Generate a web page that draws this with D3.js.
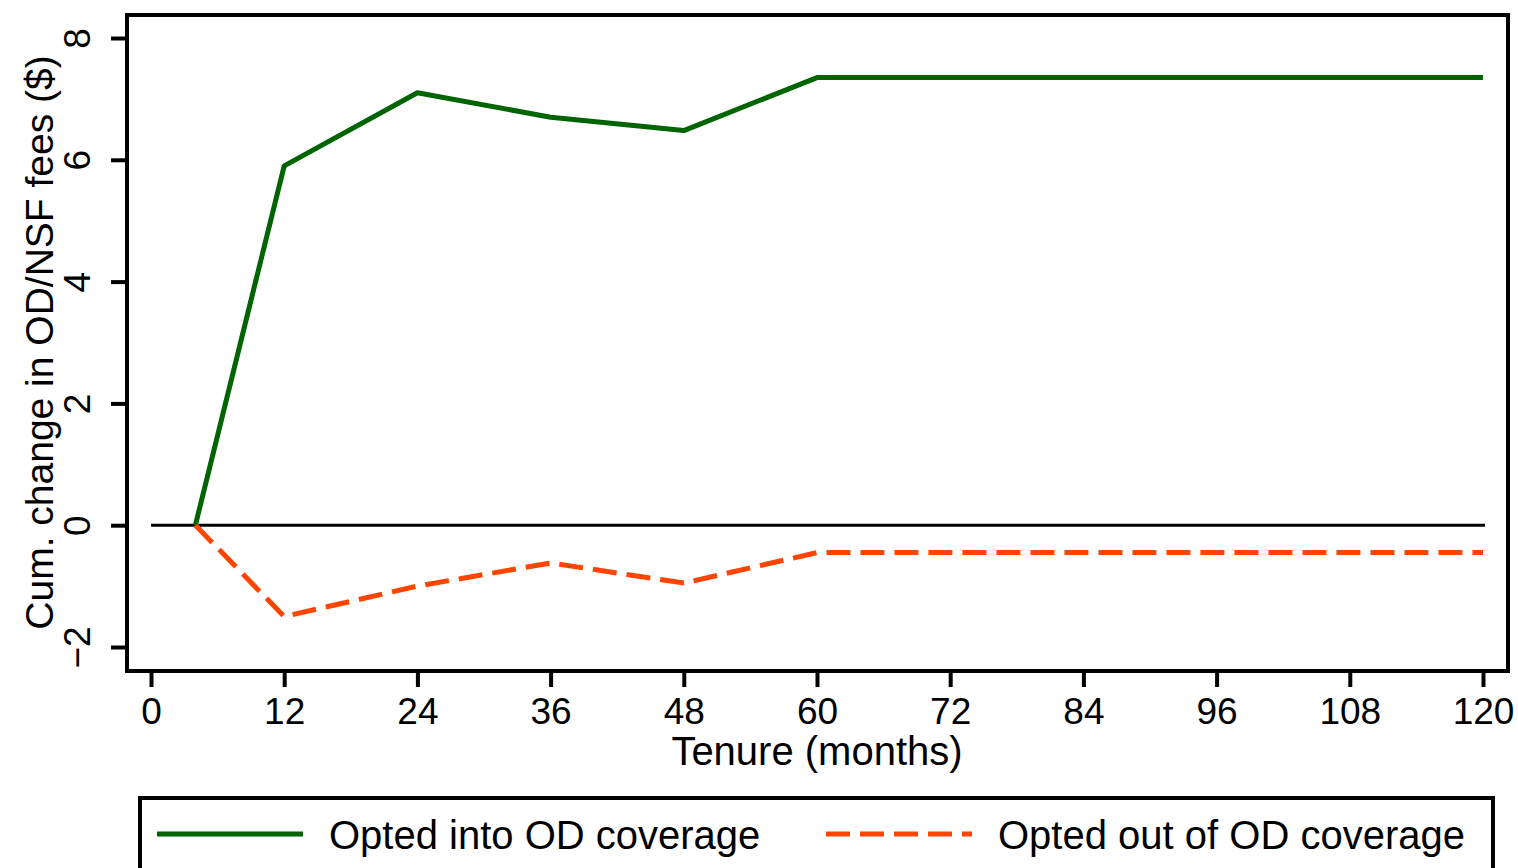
<!DOCTYPE html>
<html>
<head>
<meta charset="utf-8">
<script src="https://cdn.jsdelivr.net/npm/d3@7"></script>
<style>
  html, body { margin: 0; padding: 0; background: #fff; }
  svg { display: block; font-family: "Liberation Sans", Arial, sans-serif; }
</style>
</head>
<body>
<svg id="chart" width="1518" height="868"></svg>
<script>
// ---- data ----
const tenure = [4, 12, 24, 36, 48, 60, 120];
const optedIn = [0, 5.9, 7.1, 6.7, 6.48, 7.35, 7.35];
const optedOut = [0, -1.5, -1.0, -0.62, -0.95, -0.45, -0.45];
const xTicks = [0, 12, 24, 36, 48, 60, 72, 84, 96, 108, 120];
const yTicks = [-2, 0, 2, 4, 6, 8];
const seriesNames = ["Opted into OD coverage", "Opted out of OD coverage"];
const xTitle = "Tenure (months)";
const yTitle = "Cum. change in OD/NSF fees ($)";

const svg = d3.select("#chart");
const x = d3.scaleLinear().domain([0, 120]).range([151, 1483]);
const y = d3.scaleLinear().domain([-2, 8]).range([647, 38]);

const frame = { left: 127, right: 1508, top: 15, bottom: 671 };

// plot frame
svg.append("rect")
  .attr("x", frame.left).attr("y", frame.top)
  .attr("width", frame.right - frame.left).attr("height", frame.bottom - frame.top)
  .attr("fill", "#fff").attr("stroke", "#000").attr("stroke-width", 4);

// y axis
const yAxis = svg.append("g").attr("transform", `translate(${frame.left - 2},0)`)
  .call(d3.axisLeft(y).tickValues(yTicks).tickSize(14).tickFormat(""));
yAxis.select(".domain").remove();
yAxis.selectAll(".tick line").attr("stroke", "#000").attr("stroke-width", 4);
yAxis.selectAll(".tick").append("text")
  .attr("transform", "translate(-35,0) rotate(-90)")
  .attr("text-anchor", "middle")
  .attr("fill", "#000")
  .style("font-size", "37px")
  .text(d => d < 0 ? "\u2212" + Math.abs(d) : d);

// x axis
const xAxis = svg.append("g").attr("transform", `translate(0,${frame.bottom + 2})`)
  .call(d3.axisBottom(x).tickValues(xTicks).tickSize(14).tickFormat(""));
xAxis.select(".domain").remove();
xAxis.selectAll(".tick line").attr("stroke", "#000").attr("stroke-width", 4);
xAxis.selectAll(".tick").append("text")
  .attr("y", 51)
  .attr("text-anchor", "middle")
  .attr("fill", "#000")
  .style("font-size", "37px")
  .text(d => d);

// titles
svg.append("text")
  .attr("x", x(60)).attr("y", 765)
  .attr("text-anchor", "middle")
  .style("font-size", "40px")
  .text(xTitle);
svg.append("text")
  .attr("transform", `translate(53,${(y(-2) + y(8)) / 2}) rotate(-90)`)
  .attr("text-anchor", "middle")
  .style("font-size", "39px")
  .text(yTitle);

// zero line
svg.append("line")
  .attr("x1", x(0)).attr("x2", x(120) + 2)
  .attr("y1", y(0)).attr("y2", y(0))
  .attr("stroke", "#000").attr("stroke-width", 3);

const line = d3.line().x((d, i) => x(tenure[i])).y(d => y(d));

svg.append("path")
  .datum(optedIn)
  .attr("d", line)
  .attr("fill", "none").attr("stroke", "#006400").attr("stroke-width", 5)
  .attr("stroke-linejoin", "round");

svg.append("path")
  .datum(optedOut)
  .attr("d", line)
  .attr("fill", "none").attr("stroke", "#FF4500").attr("stroke-width", 5)
  .attr("stroke-dasharray", "24,10");

// legend
svg.append("rect")
  .attr("x", 140).attr("y", 798).attr("width", 1353).attr("height", 100)
  .attr("fill", "#fff").attr("stroke", "#000").attr("stroke-width", 4);

const legendItems = [
  { name: seriesNames[0], color: "#006400", dash: null, x0: 157 },
  { name: seriesNames[1], color: "#FF4500", dash: "24,10", x0: 826 }
];
legendItems.forEach(it => {
  svg.append("line")
    .attr("x1", it.x0).attr("x2", it.x0 + 146)
    .attr("y1", 834).attr("y2", 834)
    .attr("stroke", it.color).attr("stroke-width", 5)
    .attr("stroke-dasharray", it.dash);
  svg.append("text")
    .attr("x", it.x0 + 172).attr("y", 849)
    .style("font-size", "40px")
    .text(it.name);
});
</script>
</body>
</html>
